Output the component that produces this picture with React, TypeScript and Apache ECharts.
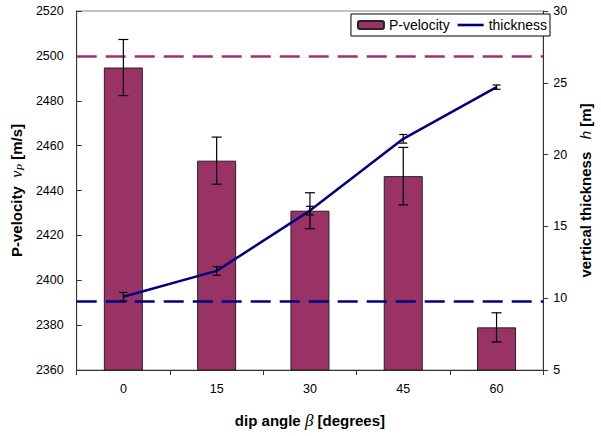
import React, { useEffect, useRef } from "react";
import * as echarts from "echarts";

const angles = ["0", "15", "30", "45", "60"];
const velocity = [2494.8, 2453.3, 2431.0, 2446.4, 2379.0];
const velocityErr = [12.5, 10.5, 8.0, 12.8, 6.5];
const thickness = [10.1, 11.9, 16.1, 21.1, 24.7];
const thicknessErr = [0.3, 0.3, 0.3, 0.3, 0.15];
const velocityRef = 2500;
const thicknessRef = 9.8;

const FONT = "Liberation Sans, Arial, sans-serif";
const SERIF = "Liberation Serif, Times New Roman, serif";

function errorRenderer(cap: number) {
  return (params: any, api: any) => {
    const x = api.value(0);
    const lo = api.coord([x, api.value(1)]);
    const hi = api.coord([x, api.value(2)]);
    const style = { stroke: "#000", lineWidth: 1.2 };
    return {
      type: "group",
      children: [
        { type: "line", shape: { x1: lo[0], y1: lo[1], x2: hi[0], y2: hi[1] }, style },
        { type: "line", shape: { x1: lo[0] - cap, y1: lo[1], x2: lo[0] + cap, y2: lo[1] }, style },
        { type: "line", shape: { x1: hi[0] - cap, y1: hi[1], x2: hi[0] + cap, y2: hi[1] }, style },
      ],
    };
  };
}

export default function App() {
  const ref = useRef<HTMLDivElement>(null);
  useEffect(() => {
    if (!ref.current) return;
    const chart = echarts.init(ref.current, undefined, { renderer: "svg" });
    const velErrData = velocity.map((v, i) => [i, v - velocityErr[i], v + velocityErr[i]]);
    const thkErrData = thickness.map((v, i) => [i, v - thicknessErr[i], v + thicknessErr[i]]);
    const plain = (v: number) => String(v);
    chart.setOption({
      animation: false,
      backgroundColor: "#fff",
      textStyle: { fontFamily: FONT },
      grid: {
        left: 75,
        right: 48,
        top: 11,
        bottom: 66,
        show: true,
        borderColor: "#888",
        borderWidth: 1,
      },
      legend: {
        data: [
          { name: "P-velocity" },
          { name: "thickness", icon: "path://M0,0H26V2.6H0Z" },
        ],
        right: 51,
        top: 14,
        orient: "horizontal",
        backgroundColor: "#fff",
        borderColor: "#000",
        borderWidth: 1,
        borderRadius: 0,
        padding: [4, 3, 4, 6],
        itemWidth: 26,
        itemHeight: 8,
        itemGap: 8,
        textStyle: { fontFamily: FONT, fontSize: 14, color: "#000" },
      },
      xAxis: {
        type: "category",
        data: angles,
        boundaryGap: true,
        axisLine: { lineStyle: { color: "#333", width: 1 } },
        axisTick: { show: true, inside: false, length: 5, lineStyle: { color: "#333" } },
        axisLabel: { color: "#000", fontSize: 12.5, fontFamily: FONT, margin: 12 },
        name: "{b|dip angle }{g|β}{b| [degrees]}",
        nameLocation: "middle",
        nameGap: 42,
        nameTextStyle: {
          rich: {
            b: { fontWeight: "bold", fontSize: 15, fontFamily: FONT, color: "#000" },
            g: { fontStyle: "italic", fontSize: 17, fontFamily: SERIF, color: "#000" },
          },
        },
      },
      yAxis: [
        {
          type: "value",
          min: 2360,
          max: 2520,
          interval: 20,
          splitLine: { show: false },
          axisLine: { show: true, lineStyle: { color: "#333", width: 1 } },
          axisTick: { show: true, inside: true, length: 5, lineStyle: { color: "#333" } },
          axisLabel: { color: "#000", fontSize: 12.5, fontFamily: FONT, margin: 13, formatter: plain },
          name: "{b|P-velocity  }{i|v}{s|P}{b| [m/s]}",
          nameLocation: "middle",
          nameRotate: 90,
          nameGap: 47,
          nameTextStyle: {
            rich: {
              b: { fontWeight: "bold", fontSize: 15, fontFamily: FONT, color: "#000" },
              i: { fontStyle: "italic", fontSize: 16, fontFamily: SERIF, color: "#000" },
              s: { fontStyle: "italic", fontSize: 11, fontFamily: SERIF, color: "#000", verticalAlign: "bottom", padding: [7, 0, 0, 0] },
            },
          },
        },
        {
          type: "value",
          min: 5,
          max: 30,
          interval: 5,
          position: "right",
          splitLine: { show: false },
          axisLine: { show: true, lineStyle: { color: "#333", width: 1 } },
          axisTick: { show: true, inside: false, length: 5, lineStyle: { color: "#333" } },
          axisLabel: { color: "#000", fontSize: 12.5, fontFamily: FONT, margin: 10, formatter: plain },
          name: "{b|vertical thickness   }{i|h}{b| [m]}",
          nameLocation: "middle",
          nameRotate: 90,
          nameGap: 29,
          nameTextStyle: {
            rich: {
              b: { fontWeight: "bold", fontSize: 15, fontFamily: FONT, color: "#000" },
              i: { fontStyle: "italic", fontSize: 15, fontFamily: FONT, color: "#000" },
            },
          },
        },
      ],
      series: [
        {
          name: "P-velocity",
          type: "bar",
          data: velocity,
          yAxisIndex: 0,
          barWidth: 39,
          itemStyle: { color: "#993366", borderColor: "#222", borderWidth: 1 },
          markLine: {
            silent: true,
            symbol: "none",
            label: { show: false },
            lineStyle: { color: "#A03070", type: [20, 9], width: 2.5 },
            data: [{ yAxis: velocityRef }],
          },
          z: 2,
        },
        {
          name: "velErr",
          type: "custom",
          yAxisIndex: 0,
          data: velErrData,
          encode: { x: 0, y: [1, 2] },
          renderItem: errorRenderer(5),
          z: 5,
        },
        {
          name: "thickness",
          type: "line",
          data: thickness,
          yAxisIndex: 1,
          symbol: "none",
          lineStyle: { color: "#000080", width: 2.5 },
          itemStyle: { color: "#000080" },
          markLine: {
            silent: true,
            symbol: "none",
            label: { show: false },
            lineStyle: { color: "#000080", type: [20, 9], width: 2.5 },
            data: [{ yAxis: thicknessRef }],
          },
          z: 4,
        },
        {
          name: "thkErr",
          type: "custom",
          yAxisIndex: 1,
          data: thkErrData,
          encode: { x: 0, y: [1, 2] },
          renderItem: errorRenderer(4),
          z: 6,
        },
      ],
    });
    return () => chart.dispose();
  }, []);
  return (
    <div
      ref={ref}
      style={{ position: "fixed", left: 0, top: 0, width: 601, height: 436, background: "#fff" }}
    />
  );
}
